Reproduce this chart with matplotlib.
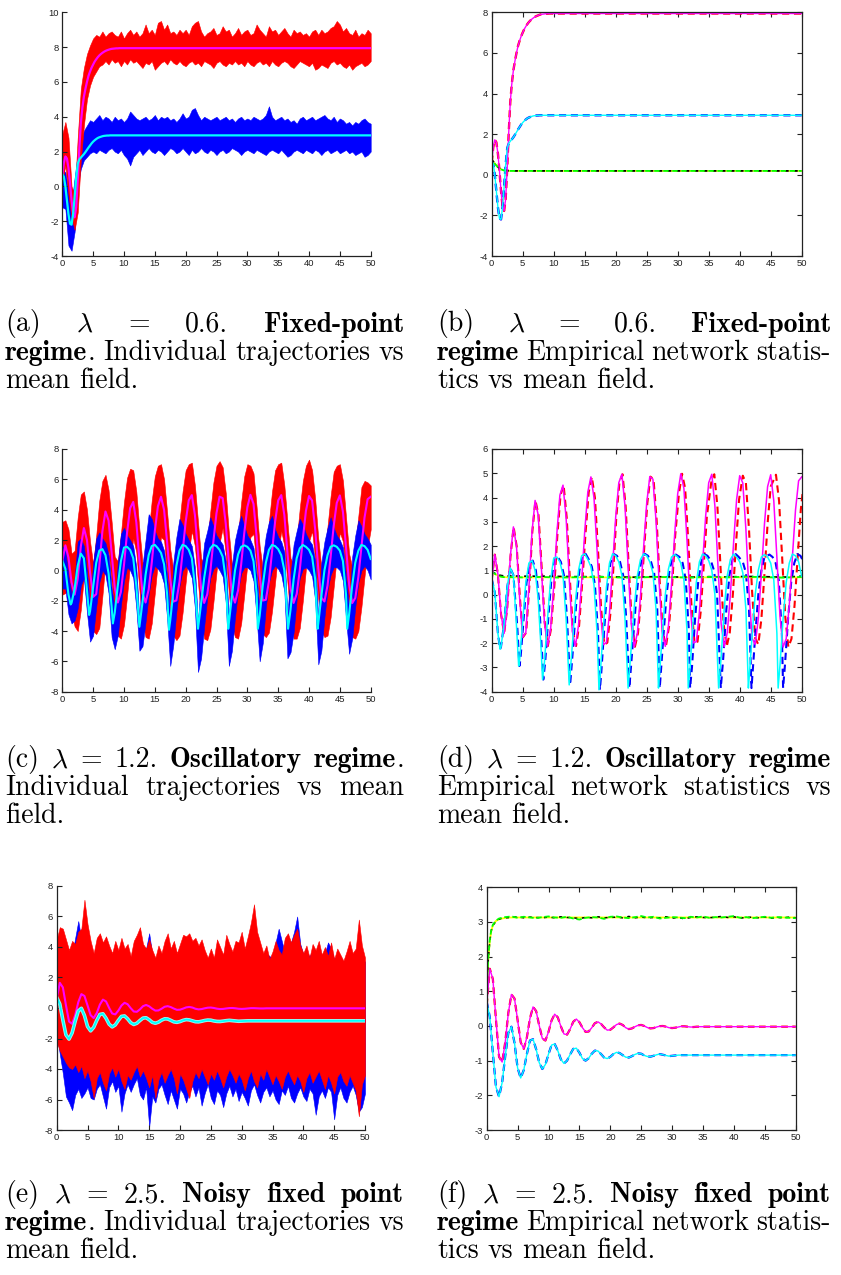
import numpy as np
import matplotlib
matplotlib.use("Agg")
import matplotlib.pyplot as plt
from matplotlib.transforms import IdentityTransform

plt.rcParams["axes.unicode_minus"] = False
plt.rcParams["mathtext.fontset"] = "cm"

W, H = 841, 1275

# ---------------- time grids ----------------
t_half = np.arange(0, 50.001, 0.5)                      # 101 samples
t06 = np.concatenate([np.arange(0, 10.001, 0.25),
                      [11, 12, 14, 16, 20, 25, 30, 35, 40, 45, 50]])

# ---------------- lambda = 0.6 ----------------
mag06 = [0.6, 1.35, 1.72, 1.6, 1.05, 0.2, -0.8, -1.55, -1.78, -1.2,
         0.3, 2.1, 3.6, 4.5, 5.15, 5.6, 6.0, 6.35, 6.6, 6.82,
         7.0, 7.17, 7.3, 7.42, 7.52, 7.6, 7.67, 7.73, 7.78, 7.82,
         7.85, 7.88, 7.9, 7.91, 7.92, 7.93, 7.93, 7.94, 7.94, 7.94,
         7.94,
         7.94, 7.94, 7.94, 7.94, 7.94, 7.94, 7.94, 7.94, 7.94, 7.94, 7.94]
cyan06 = [0.7, 0.55, 0.0, -0.8, -1.6, -2.15, -2.2, -1.6, -0.6, 0.5,
          1.3, 1.55, 1.65, 1.75, 1.85, 1.97, 2.1, 2.23, 2.35, 2.47,
          2.57, 2.65, 2.72, 2.78, 2.82, 2.85, 2.88, 2.9, 2.91, 2.92,
          2.92, 2.93, 2.93, 2.93, 2.93, 2.93, 2.93, 2.93, 2.93, 2.93,
          2.93,
          2.93, 2.93, 2.93, 2.93, 2.93, 2.93, 2.93, 2.93, 2.93, 2.93, 2.93]
yel06_t = [0, 0.25, 0.5, 0.75, 1, 1.25, 1.5, 1.75, 2, 2.5, 3, 50]
yel06 = [0.75, 0.65, 0.55, 0.46, 0.38, 0.32, 0.27, 0.24, 0.21, 0.2, 0.19, 0.19]

red06_hi = [3.0, 3.7, 2.8, 0.0, -0.5, 2.8, 5.6, 6.8, 7.6, 8.1,
            8.5, 8.7, 8.6, 8.9, 8.6, 8.8, 8.9, 8.7, 8.6, 8.9,
            8.5, 8.8, 9.0, 8.7, 8.9, 8.6, 8.8, 9.3, 8.8, 9.0,
            8.7, 9.4, 9.5, 9.0, 9.3, 8.8, 8.9, 8.7, 9.0, 8.8,
            9.0, 8.7, 9.2, 9.4, 9.5, 8.9, 8.6, 8.8, 8.9, 9.1,
            8.7, 8.8, 9.2, 8.9, 9.0, 8.6, 8.8, 9.1, 8.7, 8.9,
            9.0, 8.7, 8.8, 9.3, 9.0, 8.8, 8.6, 9.2, 8.9, 9.0,
            8.7, 8.9, 9.1, 8.8, 8.6, 9.0, 8.8, 8.9, 8.7, 8.8,
            8.6, 8.9, 9.0, 8.7, 9.0, 8.8, 8.9, 9.1, 9.2, 9.5,
            9.3, 8.9, 9.1, 8.8, 8.7, 9.0, 8.6, 8.8, 8.7, 9.0,
            8.8]
red06_lo = [0.3, 1.2, -0.5, -1.8, -2.5, -1.5, 1.5, 3.5, 5.0, 5.8,
            6.3, 6.6, 6.9, 7.0, 7.2, 7.0, 7.3, 7.1, 7.2, 6.9,
            7.2, 7.0, 7.3, 7.1, 7.2, 7.0, 6.8, 7.1, 7.0, 7.2,
            6.7, 6.9, 7.1, 7.2, 7.0, 7.3, 7.1, 7.0, 7.2, 7.0,
            6.9, 7.1, 7.2, 7.0, 7.1, 6.9, 7.2, 7.1, 7.0, 6.8,
            7.1, 7.2, 7.0, 6.9, 7.1, 7.0, 7.2, 7.0, 7.1, 6.9,
            7.2, 7.0, 6.9, 7.1, 7.2, 7.0, 7.1, 6.9, 7.2, 7.0,
            6.9, 7.1, 7.2, 7.1, 6.9, 6.8, 7.0, 7.2, 7.1, 7.0,
            6.9, 7.1, 6.7, 6.8, 7.0, 6.9, 6.8, 7.1, 7.2, 7.0,
            7.1, 6.9, 6.8, 7.0, 6.7, 6.9, 7.0, 7.1, 6.9, 7.0,
            7.2]
blue06_hi = [1.0, 0.8, -0.3, -1.0, 0.5, 1.9, 2.6, 3.2, 3.5, 3.8,
             3.7, 3.9, 4.1, 3.8, 4.0, 3.9, 3.7, 4.0, 3.8, 3.9,
             3.7, 3.9, 4.3, 4.1, 3.9, 3.8, 3.9, 4.0, 3.8, 3.9,
             4.1, 3.8, 4.0, 3.9, 4.0, 3.8, 3.9, 3.7, 3.9, 4.2,
             3.9, 4.0, 4.4, 4.5, 4.1, 3.8, 4.0, 3.9, 3.8, 3.9,
             4.0, 3.8, 3.9, 4.0, 3.8, 3.9, 3.7, 3.9, 4.0, 3.8,
             3.9, 3.8, 4.0, 3.9, 3.8, 3.9, 4.1, 4.6, 4.0, 3.8,
             3.9, 4.0, 3.8, 3.9, 3.7, 3.8, 3.6, 3.9, 4.0, 3.8,
             3.9, 4.0, 3.8, 3.9, 4.0, 4.1, 3.9, 3.8, 4.0, 3.7,
             3.9, 3.8, 3.6, 3.7, 3.5, 3.7, 3.6, 3.8, 3.9, 3.7,
             3.6]
blue06_lo = [-1.2, -1.3, -3.4, -3.7, -2.6, 0.0, 1.0, 1.5, 1.7, 1.9,
             2.0, 1.9, 2.1, 2.0, 1.9, 2.1, 2.2, 2.0, 1.9, 2.1,
             1.8, 1.6, 1.2, 1.7, 1.9, 2.1, 1.8, 2.0, 2.2, 2.0,
             1.9, 2.1, 2.0, 1.8, 2.0, 2.2, 2.1, 1.9, 2.0, 2.2,
             2.0, 1.8, 2.1, 1.9, 2.0, 2.2, 2.0, 1.9, 2.1, 2.0,
             1.8, 2.0, 2.1, 1.9, 2.0, 2.2, 2.1, 2.0, 1.8, 2.0,
             2.1, 2.0, 1.9, 2.1, 2.0, 1.9, 1.8, 2.0, 2.1, 2.0,
             1.9, 2.1, 1.9, 1.7, 1.8, 2.0, 2.1, 2.0, 1.9, 2.1,
             2.0, 1.9, 2.1, 2.0, 1.8, 2.0, 2.1, 1.9, 2.0, 2.1,
             1.9, 2.0, 2.1, 1.9, 2.0, 1.8, 1.9, 2.0, 1.7, 1.8,
             2.0]

# ---------------- lambda = 1.2 ----------------
mag12 = [0.6, 1.65, 0.84, -0.79, -1.6, -0.57, 1.57, 2.79, 1.99, -0.13,
         -1.75, -1.57, 0.28, 2.58, 3.88, 3.28, 1.16, -1.14, -2.12, -1.43,
         0.35, 2.49, 4.1, 4.51, 3.17, 0.68, -1.51, -2.12, -1.27, 0.5,
         2.59, 4.22, 4.85, 3.99, 1.82, -0.58, -2.06, -1.98, -0.76, 1.19,
         3.2, 4.61, 4.96, 3.65, 1.16, -1.19, -2.15, -1.58, -0.06, 1.93,
         3.77, 4.86, 4.76, 3.07, 0.52, -1.56, -2.13, -1.31, 0.4, 2.45,
         4.16, 4.98, 4.38, 2.23, -0.36, -1.99, -1.94, -0.72, 1.21, 3.21,
         4.61, 4.96, 3.65, 1.16, -1.19, -2.15, -1.56, 0.02, 2.08, 3.92,
         4.9, 4.6, 2.69, 0.12, -1.8, -2.05, -1.0, 0.87, 2.93, 4.45,
         4.94, 3.86, 1.52, -0.91, -2.16, -1.82, -0.43, 1.56, 3.48, 4.69,
         4.85]
red12_t = [0, 0.5, 1.0, 1.5, 2.0, 2.5, 3.03, 3.53, 4.03, 4.55,
           5.05, 5.55, 6.05, 6.55, 7.05, 7.55, 8.05, 8.55, 9.05, 9.55,
           10.1, 10.6, 11.1, 11.6, 12.1, 12.6, 13.1, 13.6, 14.1, 14.6,
           15.15, 15.65, 16.15, 16.65, 17.15, 17.65, 18.15, 18.65, 19.15, 19.65,
           20.1, 20.6, 21.1, 21.6, 22.1, 22.6, 23.1, 23.6, 24.1, 24.6,
           25.1, 25.6, 26.1, 26.6, 27.1, 27.6, 28.1, 28.6, 29.1, 29.6,
           30.2, 30.7, 31.2, 31.7, 32.2, 32.7, 33.2, 33.7, 34.2, 34.7,
           35.4, 35.9, 36.4, 36.9, 37.4, 37.9, 38.4, 38.9, 39.4, 39.9,
           40.5, 41.0, 41.5, 42.0, 42.5, 43.0, 43.5, 44.0, 44.5, 45.0,
           45.85, 46.35, 46.85, 47.35, 47.85, 48.35, 48.85, 49.35, 49.85, 50.35,
           50.85]
cyan12_t = [0, 0.5, 1.0, 1.35, 1.5, 2.0, 2.5, 3.0, 3.5, 4.0,
            4.35, 4.5, 5.0, 5.5, 6.0, 6.5, 7.0, 7.5, 8.0, 8.2,
            8.5, 9.0, 9.5, 10.0, 10.5, 11.0, 11.5, 12.0, 12.5, 13.0,
            13.5, 14.0, 14.5, 15.0, 15.5, 16.0, 16.5, 17.0, 17.3, 17.5,
            18.0, 18.5, 19.0, 19.5, 20.0, 20.5, 21.0, 21.5, 22.0, 22.5,
            23.0, 23.5, 24.0, 24.5, 25.0, 25.5, 26.0, 26.5, 26.9, 27.0,
            27.5, 28.0, 28.5, 29.0, 29.5, 30.0, 30.5, 31.0, 31.5, 31.7,
            32.0, 32.5, 33.0, 33.5, 34.0, 34.5, 35.0, 35.5, 36.0, 36.6,
            37.0, 37.5, 38.0, 38.5, 39.0, 39.5, 40.0, 40.5, 41.0, 41.4,
            41.5, 42.0, 42.5, 43.0, 43.5, 44.0, 44.5, 45.0, 45.5, 46.0,
            46.2, 46.5, 47.0, 47.5, 48.0, 48.5, 49.0, 49.5, 50.0]
cyan12 = [0.65, 0.1, -1.6, -2.25, -2.15, -1.2, 0.3, 1.1, 0.8, -1.3,
          -2.94, -2.7, -1.1, 0.5, 1.3, 1.4, 1.0, -0.2, -2.4, -3.5,
          -2.8, -1.0, 0.6, 1.5, 1.55, 1.35, 0.8, -1.0, -3.72, -2.1,
          -0.3, 1.0, 1.6, 1.68, 1.45, 1.15, 0.4, -1.6, -3.92, -3.3,
          -1.4, 0.3, 1.3, 1.68, 1.6, 1.35, 0.8, -1.0, -3.85, -2.2,
          -0.5, 0.8, 1.45, 1.68, 1.6, 1.35, 0.9, -0.6, -3.85, -3.5,
          -1.7, 0.0, 1.05, 1.55, 1.65, 1.55, 1.3, 0.6, -1.5, -3.85,
          -3.0, -1.0, 0.5, 1.35, 1.67, 1.6, 1.4, 1.0, 0.0, -3.85,
          -2.6, -0.6, 0.8, 1.45, 1.67, 1.55, 1.35, 0.9, -0.6, -3.85,
          -3.5, -1.7, 0.0, 1.0, 1.55, 1.65, 1.55, 1.3, 0.6, -1.6,
          -3.85, -2.9, -1.0, 0.5, 1.3, 1.67, 1.6, 1.35, 0.75]
blue12_t = [0, 0.5, 1.0, 1.35, 1.5, 2.0, 2.5, 3.0, 3.5, 4.12,
            4.47, 4.62, 5.12, 5.62, 6.12, 6.62, 7.12, 7.62, 8.12, 8.32,
            8.62, 9.12, 9.62, 10.15, 10.65, 11.15, 11.65, 12.15, 12.65, 13.15,
            13.65, 14.15, 14.65, 15.15, 15.65, 16.15, 16.65, 17.15, 17.45, 17.65,
            18.15, 18.65, 19.15, 19.65, 20.2, 20.7, 21.2, 21.7, 22.2, 22.7,
            23.2, 23.7, 24.2, 24.7, 25.2, 25.7, 26.2, 26.7, 27.1, 27.2,
            27.7, 28.2, 28.7, 29.2, 29.7, 30.3, 30.8, 31.3, 31.8, 32.0,
            32.3, 32.8, 33.3, 33.8, 34.3, 34.8, 35.35, 35.85, 36.35, 36.95,
            37.35, 37.85, 38.35, 38.85, 39.35, 39.85, 40.5, 41.0, 41.5, 41.9,
            42.0, 42.5, 43.0, 43.5, 44.0, 44.8, 45.3, 45.8, 46.3, 46.8,
            47.0, 47.3, 47.8, 48.3, 48.8, 49.3, 49.8, 50.3, 50.8]
flat12_t = [0, 0.5, 1, 1.5, 2, 3, 5, 8, 11, 14, 17, 20, 23, 26, 29, 32, 35, 38, 41, 44, 47, 50]
yel12 = [0.95, 0.85, 0.78, 0.74, 0.72, 0.71, 0.71, 0.71, 0.71, 0.71, 0.71,
         0.71, 0.71, 0.71, 0.71, 0.71, 0.71, 0.71, 0.71, 0.71, 0.71, 0.71]
green12 = [0.95, 0.86, 0.78, 0.74, 0.72, 0.72, 0.71, 0.73, 0.70, 0.72, 0.74,
           0.71, 0.70, 0.73, 0.72, 0.70, 0.73, 0.71, 0.74, 0.72, 0.70, 0.73]
black12 = [0.95, 0.88, 0.82, 0.79, 0.77, 0.77, 0.76, 0.76, 0.75, 0.74, 0.74,
           0.73, 0.72, 0.74, 0.73, 0.72, 0.74, 0.73, 0.75, 0.74, 0.72, 0.76]

red12_hi = [3.2, 3.3, 2.7, 1.1, 1.3, 3.5, 5.0, 5.2, 4.0, 1.9,
            0.4, 2.3, 4.6, 5.9, 6.3, 5.3, 3.2, 0.9, 0.6, 2.4,
            4.5, 6.1, 6.7, 6.6, 5.2, 2.7, 0.5, 0.7, 2.5, 4.6,
            6.2, 6.9, 7.0, 6.0, 3.8, 1.4, 0.0, 1.2, 3.2, 5.2,
            6.6, 7.0, 7.1, 5.6, 3.2, 0.8, 0.4, 1.9, 3.9, 5.8,
            6.9, 7.2, 6.8, 5.1, 2.5, 0.4, 0.7, 2.4, 4.5, 6.2,
            7.0, 6.9, 6.4, 4.2, 1.6, 0.1, 1.3, 3.2, 5.2, 6.6,
            7.0, 7.1, 5.6, 3.2, 0.8, 0.4, 2.0, 4.1, 5.9, 6.9,
            7.3, 6.6, 4.7, 2.1, 0.2, 1.0, 2.9, 4.9, 6.5, 6.9,
            7.0, 5.9, 3.5, 1.1, 0.2, 1.6, 3.6, 5.5, 5.9, 5.8,
            5.6]
red12_lo = [-1.6, -1.5, -1.2, -2.8, -3.7, -4.0, -2.6, -0.4, 0.0, -2.1,
            -4.0, -4.2, -3.8, -1.7, 0.6, 1.3, -0.8, -3.1, -4.3, -4.5,
            -3.6, -1.7, 0.5, 2.1, 1.2, -1.3, -3.5, -4.4, -4.5, -3.5,
            -1.5, 0.6, 2.2, 2.0, -0.2, -2.6, -4.3, -4.6, -4.3, -2.8,
            -0.8, 1.2, 2.6, 1.6, -0.8, -3.2, -4.5, -4.6, -3.9, -2.1,
            -0.1, 1.8, 2.8, 1.1, -1.5, -3.6, -4.4, -4.5, -3.5, -1.6,
            0.4, 2.2, 2.4, 0.2, -2.4, -4.2, -4.4, -4.1, -2.7, -0.8,
            1.2, 2.6, 1.6, -0.8, -3.2, -4.5, -4.5, -3.8, -2.0, 0.1,
            1.9, 2.6, 0.7, -1.9, -4.0, -4.4, -4.3, -3.1, -1.1, 0.9,
            2.5, 1.9, -0.5, -2.9, -4.4, -4.5, -4.0, -2.4, -0.4, 1.5,
            2.7]
blue12_hi = [1.6, 1.3, -0.4, -1.6, -0.5, 1.9, 2.1, 1.6, -0.1, -2.3,
             0.5, 2.1, 2.5, 2.1, 1.8, 1.0, -1.2, -2.5, 0.5, 2.4,
             2.8, 2.3, 2.0, 1.6, 0.2, -3.3, 0.3, 2.0, 3.7, 3.4,
             2.6, 2.1, 1.9, 1.3, -0.4, -3.0, 0.5, 2.2, 3.4, 3.0,
             2.4, 2.0, 1.6, 0.2, -3.5, -0.3, 1.8, 2.6, 3.5, 2.9,
             2.3, 2.0, 1.7, 0.6, -3.2, 0.3, 2.0, 2.9, 3.6, 2.9,
             2.3, 2.0, 1.5, -0.3, -2.7, 0.8, 2.3, 3.2, 3.6, 2.7,
             2.2, 1.9, 1.2, -2.9, -0.3, 1.7, 2.6, 3.4, 3.0, 2.4,
             2.0, 1.7, 0.6, -3.2, 0.5, 1.9, 2.8, 3.5, 2.8, 2.3,
             2.0, 1.5, -0.4, -2.6, 0.9, 2.3, 3.3, 2.9, 2.4, 2.1,
             1.7]
blue12_lo = [-1.2, -1.2, -2.9, -3.5, -3.3, -2.5, -1.0, -0.5, -2.8, -4.7,
             -4.3, -2.4, -0.8, 0.0, -0.3, -1.5, -4.4, -5.2, -4.3, -2.3,
             -0.7, 0.2, 0.0, -0.5, -2.5, -5.3, -5.0, -3.4, -1.6, -0.3,
             0.3, 0.1, -0.2, -0.9, -3.2, -6.3, -4.9, -2.7, -1.0, 0.0,
             0.3, 0.0, -0.5, -2.5, -6.7, -5.8, -3.7, -1.8, -0.5, 0.1,
             0.3, 0.0, -0.4, -2.1, -6.3, -5.3, -3.1, -1.3, -0.2, 0.2,
             0.2, 0.0, -0.7, -3.1, -6.0, -4.8, -2.4, -0.8, 0.0, 0.3,
             0.1, -0.3, -1.4, -5.8, -5.4, -4.1, -1.9, -0.5, 0.1, 0.2,
             0.0, -0.4, -2.0, -6.2, -5.3, -3.1, -1.3, -0.3, 0.2, 0.2,
             0.0, -0.7, -3.2, -5.5, -4.5, -2.4, -0.8, 0.0, 0.3, 0.0,
             -0.6]

# ---------------- lambda = 2.5 ----------------
mag25 = [0.6, 1.65, 1.35, 0.18, -0.89, -1.04, -0.47, 0.38, 0.91, 0.79,
         0.17, -0.47, -0.66, -0.33, 0.22, 0.55, 0.43, 0.01, -0.36, -0.42,
         -0.17, 0.16, 0.34, 0.25, -0.01, -0.23, -0.25, -0.09, 0.12, 0.2,
         0.11, -0.05, -0.17, -0.16, -0.05, 0.08, 0.12, 0.06, -0.04, -0.12,
         -0.11, -0.04, 0.04, 0.07, 0.03, -0.05, -0.09, -0.07, -0.02, 0.02,
         0.03, 0.0, -0.045, -0.07, -0.06, -0.03, -0.005, 0.0, -0.02, -0.05,
         -0.06, -0.05, -0.03, -0.01, -0.01, -0.02, -0.03, -0.03, -0.02, -0.02,
         -0.02, -0.02, -0.02, -0.02, -0.02, -0.02, -0.02, -0.02, -0.02, -0.02,
         -0.02, -0.02, -0.02, -0.02, -0.02, -0.02, -0.02, -0.02, -0.02, -0.02,
         -0.02, -0.02, -0.02, -0.02, -0.02, -0.02, -0.02, -0.02, -0.02, -0.02,
         -0.02]
cyan25 = [0.7, 0.26, -0.79, -1.76, -2.04, -1.63, -0.87, -0.2, -0.02, -0.49,
          -1.21, -1.5, -1.27, -0.81, -0.42, -0.38, -0.67, -1.06, -1.24, -1.11,
          -0.81, -0.55, -0.52, -0.71, -0.96, -1.08, -1.0, -0.82, -0.66, -0.64,
          -0.77, -0.94, -1.0, -0.93, -0.8, -0.71, -0.72, -0.81, -0.91, -0.94,
          -0.89, -0.81, -0.76, -0.78, -0.84, -0.9, -0.91, -0.87, -0.82, -0.79,
          -0.8, -0.85, -0.88, -0.885, -0.86, -0.83, -0.81, -0.83, -0.85, -0.87,
          -0.86, -0.85, -0.84, -0.84, -0.84, -0.84, -0.84, -0.84, -0.84, -0.84,
          -0.84, -0.84, -0.84, -0.84, -0.84, -0.84, -0.84, -0.84, -0.84, -0.84,
          -0.84, -0.84, -0.84, -0.84, -0.84, -0.84, -0.84, -0.84, -0.84, -0.84,
          -0.84, -0.84, -0.84, -0.84, -0.84, -0.84, -0.84, -0.84, -0.84, -0.84,
          -0.84]
yel25_t = [0, 0.25, 0.5, 0.75, 1.0, 1.5, 2.0, 2.5, 3.0, 4.0, 50]
yel25 = [1.0, 1.9, 2.45, 2.75, 2.9, 3.03, 3.08, 3.1, 3.12, 3.13, 3.13]
stat25_t = [0, 0.25, 0.5, 0.75, 1, 1.5, 2, 2.5, 3] + list(range(4, 51))
green25 = [1.0, 1.95, 2.5, 2.78, 2.92, 3.04, 3.1, 3.12, 3.14,
           3.16, 3.12, 3.15, 3.13, 3.11, 3.14, 3.16, 3.13, 3.12, 3.15,
           3.10, 3.07, 3.12, 3.14, 3.13, 3.09, 3.15, 3.16, 3.13, 3.11,
           3.14, 3.17, 3.13, 3.15, 3.10, 3.12, 3.14, 3.13, 3.11, 3.15,
           3.13, 3.16, 3.12, 3.14, 3.13, 3.15, 3.17, 3.12, 3.14, 3.11,
           3.13, 3.15, 3.12, 3.14, 3.13, 3.12, 3.11]
black25 = [0.95, 1.9, 2.45, 2.75, 2.9, 3.02, 3.08, 3.11, 3.12,
           3.13, 3.15, 3.12, 3.14, 3.13, 3.12, 3.14, 3.12, 3.15, 3.13,
           3.12, 3.10, 3.13, 3.12, 3.15, 3.12, 3.13, 3.14, 3.12, 3.16,
           3.12, 3.14, 3.12, 3.13, 3.12, 3.15, 3.11, 3.13, 3.09, 3.13,
           3.15, 3.13, 3.12, 3.14, 3.16, 3.13, 3.15, 3.11, 3.13, 3.14,
           3.12, 3.14, 3.11, 3.13, 3.12, 3.14, 3.12]

red25_hi = [4.5, 5.3, 5.2, 4.5, 3.8, 4.4, 4.2, 5.0, 5.2, 7.1,
            5.5, 4.4, 3.6, 4.6, 4.9, 4.3, 4.7, 4.1, 3.6, 4.4,
            3.8, 4.6, 3.9, 4.2, 3.4, 4.4, 4.8, 5.3, 4.2, 3.9,
            4.5, 3.8, 3.3, 4.1, 3.6, 4.4, 4.9, 3.9, 4.4, 3.6,
            4.2, 4.8, 4.7, 4.9, 4.4, 4.6, 4.1, 4.5, 3.8, 3.3,
            3.9, 3.3, 4.5, 4.0, 3.5, 4.8, 4.2, 3.7, 4.4, 4.3,
            5.0, 3.9, 4.7, 5.6, 6.8, 5.0, 4.3, 3.6, 4.1, 3.2,
            3.7, 4.4, 3.8, 3.5, 4.6, 4.9, 4.3, 4.8, 5.2, 4.1,
            3.6, 4.1, 3.3, 4.2, 3.8, 4.4, 3.5, 4.0, 3.4, 4.3,
            3.2, 3.9, 3.5, 3.1, 3.7, 4.4, 3.6, 3.9, 5.8, 4.1,
            3.3]
red25_lo = [-2.2, -2.8, -3.2, -3.6, -3.9, -4.0, -3.7, -4.2, -3.8, -4.6,
            -4.1, -4.8, -5.9, -4.6, -4.2, -4.9, -5.4, -4.3, -3.9, -4.5,
            -4.0, -4.8, -5.3, -4.4, -4.7, -4.2, -3.8, -4.5, -4.1, -4.6,
            -5.2, -4.4, -5.9, -4.7, -4.2, -4.9, -4.4, -4.0, -4.6, -5.6,
            -4.3, -4.7, -5.3, -5.9, -4.8, -4.2, -4.6, -4.0, -4.5, -5.0,
            -4.3, -4.7, -4.1, -4.6, -5.2, -4.5, -4.0, -4.4, -4.9, -4.3,
            -4.7, -5.4, -4.6, -4.1, -4.8, -5.2, -4.3, -4.7, -4.0, -4.5,
            -5.0, -4.4, -4.8, -5.3, -4.5, -4.1, -4.6, -5.0, -4.4, -4.8,
            -5.5, -4.6, -4.2, -4.9, -4.5, -4.1, -4.7, -5.3, -4.4, -4.9,
            -5.6, -4.5, -4.2, -4.8, -5.1, -4.4, -4.9, -5.4, -7.1, -5.0,
            -4.4]
blue25_hi = [4.8, 4.0, 3.5, 3.2, 3.0, 3.4, 4.6, 5.7, 4.5, 3.8,
             3.5, 3.9, 3.3, 3.6, 3.8, 3.4, 3.6, 3.2, 3.4, 3.7,
             3.3, 4.2, 3.5, 3.3, 3.0, 3.6, 3.8, 3.2, 3.6, 3.9,
             4.9, 3.5, 3.1, 3.4, 3.2, 3.6, 3.4, 3.3, 3.7, 3.2,
             3.5, 3.4, 3.6, 3.3, 3.7, 3.5, 3.2, 3.6, 3.4, 3.1,
             3.5, 3.0, 3.6, 3.4, 3.2, 3.7, 3.5, 3.3, 3.6, 3.4,
             3.9, 3.5, 3.6, 3.8, 3.9, 3.7, 3.4, 3.2, 3.6, 3.4,
             3.3, 4.3, 5.2, 4.4, 3.6, 3.8, 4.3, 5.0, 6.0, 4.2,
             3.5, 3.6, 3.4, 3.7, 3.5, 3.9, 3.3, 3.6, 4.3, 3.9,
             3.2, 3.4, 3.3, 3.0, 3.3, 3.5, 3.4, 3.6, 4.0, 3.5,
             3.0]
blue25_lo = [-1.8, -3.0, -4.3, -5.8, -6.2, -6.7, -5.7, -5.3, -5.9, -5.6,
             -5.2, -5.9, -6.0, -5.3, -5.0, -5.8, -6.6, -5.2, -4.8, -5.5,
             -5.1, -6.8, -5.6, -5.0, -5.5, -5.0, -4.6, -5.7, -6.0, -5.2,
             -7.8, -5.8, -6.2, -5.3, -5.0, -5.7, -6.3, -5.4, -6.0, -6.6,
             -5.3, -5.6, -6.2, -5.5, -5.1, -5.8, -5.2, -6.4, -5.6, -5.0,
             -5.9, -6.3, -5.4, -5.7, -6.5, -5.6, -5.1, -5.8, -5.3, -6.1,
             -5.5, -5.9, -6.4, -5.4, -5.0, -5.7, -6.2, -5.5, -5.2, -5.8,
             -5.4, -6.0, -6.3, -5.4, -5.7, -5.1, -5.9, -6.2, -5.6, -5.2,
             -5.8, -6.1, -5.3, -5.6, -7.0, -5.8, -5.4, -5.9, -5.2, -5.5,
             -7.3, -5.7, -5.2, -5.9, -6.2, -5.5, -5.1, -5.7, -6.8, -6.5,
             -5.6]

# ---------------- captions ----------------
caption_a = [[[("(a)", "r")], [(r"$\lambda$", "m")], [("=", "r")], [("0.6.", "r")], [("Fixed-point", "b")]],
             [[("regime", "b"), (".", "r")], [("Individual", "r")], [("trajectories", "r")], [("vs", "r")]],
             [[("mean", "r")], [("field.", "r")]]]
caption_b = [[[("(b)", "r")], [(r"$\lambda$", "m")], [("=", "r")], [("0.6.", "r")], [("Fixed-point", "b")]],
             [[("regime", "b")], [("Empirical", "r")], [("network", "r")], [("statis-", "r")]],
             [[("tics", "r")], [("vs", "r")], [("mean", "r")], [("field.", "r")]]]
caption_c = [[[("(c)", "r")], [(r"$\lambda$", "m")], [("=", "r")], [("1.2.", "r")], [("Oscillatory", "b")], [("regime", "b"), (".", "r")]],
             [[("Individual", "r")], [("trajectories", "r")], [("vs", "r")], [("mean", "r")]],
             [[("field.", "r")]]]
caption_d = [[[("(d)", "r")], [(r"$\lambda$", "m")], [("=", "r")], [("1.2.", "r")], [("Oscillatory", "b")], [("regime", "b")]],
             [[("Empirical", "r")], [("network", "r")], [("statistics", "r")], [("vs", "r")]],
             [[("mean", "r")], [("field.", "r")]]]
caption_e = [[[("(e)", "r")], [(r"$\lambda$", "m")], [("=", "r")], [("2.5.", "r")], [("Noisy", "b")], [("fixed", "b")], [("point", "b")]],
             [[("regime", "b"), (".", "r")], [("Individual", "r")], [("trajectories", "r")], [("vs", "r")]],
             [[("mean", "r")], [("field.", "r")]]]
caption_f = [[[("(f)", "r")], [(r"$\lambda$", "m")], [("=", "r")], [("2.5.", "r")], [("Noisy", "b")], [("fixed", "b")], [("point", "b")]],
             [[("regime", "b")], [("Empirical", "r")], [("network", "r")], [("statis-", "r")]],
             [[("tics", "r")], [("vs", "r")], [("mean", "r")], [("field.", "r")]]]

# ======================= drawing =======================
fig = plt.figure(figsize=(W / 100, H / 100), dpi=100)
fig.patch.set_facecolor("white")


def rect(l, t, r, b):
    return [l / W, 1 - b / H, (r - l) / W, (b - t) / H]


def style(ax, box, ylim, yticks):
    ax.set_xlim(0, 50)
    ax.set_ylim(*ylim)
    ax.set_xticks(np.arange(0, 51, 5))
    ax.set_yticks(yticks)
    ax.tick_params(direction="in", length=3.5, width=0.8, labelsize=6.8, pad=2.5,
                   colors="#222222", top=box, right=box)
    for s in ["top", "right"]:
        ax.spines[s].set_visible(box)
    for s in ax.spines.values():
        s.set_linewidth(0.9)
        s.set_color("#222222")
    for lab in ax.get_xticklabels() + ax.get_yticklabels():
        lab.set_fontfamily("Liberation Sans")
    ax.set_facecolor("white")


RED, BLUE, MAG, CYAN = "#ff0000", "#0000ff", "#ff00ff", "#00ffff"
YEL, GRN = "#ffff00", "#00ff00"

# (a)
ax = fig.add_axes(rect(62.3, 12.3, 370.7, 256))
ax.fill_between(t_half, blue06_lo, blue06_hi, color=BLUE, lw=0.4)
ax.fill_between(t_half, red06_lo, red06_hi, color=RED, lw=0.4)
ax.plot(t06, mag06, color=MAG, lw=1.6)
ax.plot(t06, cyan06, color=CYAN, lw=1.6)
style(ax, False, (-4, 10), np.arange(-4, 11, 2))

# (b)
ax = fig.add_axes(rect(491.7, 12.3, 801.7, 256))
ax.plot(t06, mag06, color=RED, lw=1.7, dashes=(3, 2))
ax.plot(t06, cyan06, color=BLUE, lw=1.7, dashes=(3, 2))
ax.plot(yel06_t, yel06, color=YEL, lw=1.2)
ax.plot(yel06_t, yel06, color="k", lw=1.3, dashes=(2, 3))
ax.plot(yel06_t, yel06, color=GRN, lw=1.3, linestyle=(2.5, (3, 2)))
ax.plot(t06, mag06, color=MAG, lw=1.0)
ax.plot(t06, cyan06, color=CYAN, lw=1.0)
style(ax, True, (-4, 8), np.arange(-4, 9, 2))

# (c)  red trajectories under the blue ones
ax = fig.add_axes(rect(62.3, 449, 370.7, 691.7))
ax.fill_between(t_half, red12_lo, red12_hi, color=RED, lw=0.4)
ax.fill_between(t_half, blue12_lo, blue12_hi, color=BLUE, lw=0.4)
ax.plot(t_half, mag12, color=MAG, lw=1.5)
ax.plot(cyan12_t, cyan12, color=CYAN, lw=1.5)
style(ax, False, (-8, 8), np.arange(-8, 9, 2))

# (d)
ax = fig.add_axes(rect(491.7, 449, 801.7, 691.7))
ax.plot(red12_t, mag12, color=RED, lw=1.5, dashes=(3.5, 2.2))
ax.plot(blue12_t, cyan12, color=BLUE, lw=1.5, dashes=(3.5, 2.2))
ax.plot(flat12_t, yel12, color=YEL, lw=1.2)
ax.plot(flat12_t, black12, color="k", lw=1.2, dashes=(2.5, 2.5))
ax.plot(flat12_t, green12, color=GRN, lw=1.3, dashes=(3, 2))
ax.plot(t_half, mag12, color=MAG, lw=1.1)
ax.plot(cyan12_t, cyan12, color=CYAN, lw=1.1)
style(ax, True, (-4, 6), np.arange(-4, 7, 1))

# (e)
ax = fig.add_axes(rect(56.7, 886, 365, 1130))
ax.fill_between(t_half, blue25_lo, blue25_hi, color=BLUE, lw=0.4)
ax.fill_between(t_half, red25_lo, red25_hi, color=RED, lw=0.4)
ax.plot(t_half, mag25, color=MAG, lw=1.5)
ax.plot(t_half, cyan25, color="#9ff5f0", lw=2.6)
ax.plot(t_half, cyan25, color=CYAN, lw=1.3)
style(ax, False, (-8, 8), np.arange(-8, 9, 2))

# (f)
ax = fig.add_axes(rect(486.7, 887.3, 795.7, 1130))
ax.plot(t_half, mag25, color=RED, lw=1.6, dashes=(3, 2))
ax.plot(t_half, cyan25, color=BLUE, lw=1.6, dashes=(3, 2))
ax.plot(yel25_t, yel25, color=YEL, lw=1.3)
ax.plot(stat25_t, black25, color="k", lw=1.1, dashes=(2, 3))
ax.plot(stat25_t, green25, color=GRN, lw=1.3, dashes=(3, 1.5))
ax.plot(t_half, mag25, color=MAG, lw=1.0)
ax.plot(t_half, cyan25, color=CYAN, lw=1.0)
style(ax, True, (-3, 4), np.arange(-3, 5, 1))

# ---------------- captions (justified like LaTeX) ----------------
FS = 20.0
SPACE = 9.0
renderer = fig.canvas.get_renderer()


def make_piece(s, st):
    kw = dict(transform=IdentityTransform(), va="baseline", ha="left", fontsize=FS, color="black")
    if st == "r":
        kw["fontfamily"] = "cmr10"
    elif st == "b":
        kw["fontfamily"] = "cmb10"
    return fig.text(0, 0, s, **kw)


def place_line(words, x0, x1, ybase, justify):
    built, widths = [], []
    for w in words:
        objs, tot = [], 0.0
        for s, st in w:
            t = make_piece(s, st)
            bw = t.get_window_extent(renderer).width
            objs.append((t, bw))
            tot += bw
        built.append(objs)
        widths.append(tot)
    if justify and len(words) > 1:
        gap = (x1 - x0 - sum(widths)) / (len(words) - 1)
    else:
        gap = SPACE
    x = x0
    for objs, tot in zip(built, widths):
        xx = x
        for t, bw in objs:
            t.set_position((xx, H - ybase))
            xx += bw
        x += tot + gap


def place_caption(lines, x0, x1, baselines):
    for i, (ln, yb) in enumerate(zip(lines, baselines)):
        place_line(ln, x0, x1, yb, justify=(i < len(lines) - 1))


LX0, LX1 = 5, 404
RX0, RX1 = 437, 831
place_caption(caption_a, LX0, LX1, [331.5, 359.5, 387.5])
place_caption(caption_b, RX0, RX1, [331.5, 359.5, 387.5])
place_caption(caption_c, LX0, LX1, [767.3, 795.0, 822.7])
place_caption(caption_d, RX0, RX1, [767.3, 795.0, 822.7])
place_caption(caption_e, LX0, LX1, [1202.3, 1230.0, 1257.7])
place_caption(caption_f, RX0, RX1, [1202.3, 1230.0, 1257.7])

fig.savefig("out.png", dpi=100, facecolor="white")
